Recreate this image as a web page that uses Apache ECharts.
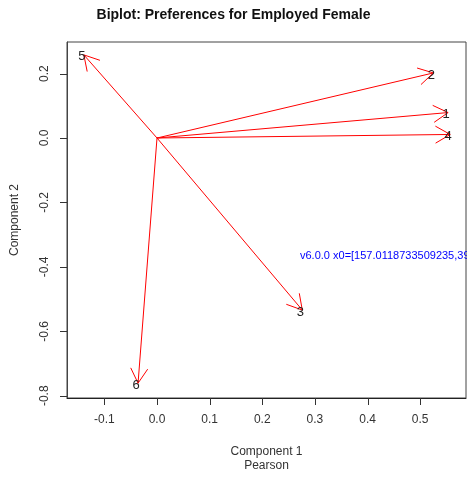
<!DOCTYPE html>
<html>
<head>
<meta charset="utf-8">
<script src="https://cdn.jsdelivr.net/npm/echarts@6/dist/echarts.min.js"></script>
<style>
  html, body { margin: 0; padding: 0; background: #fff; }
  #main { width: 467px; height: 479px; }
</style>
</head>
<body>
<div id="main"></div>
<script>
// variable loadings (arrow tips)
var varNames = ["1", "2", "3", "4", "5", "6"];
var comp1 = [0.553, 0.525, 0.276, 0.557, -0.139, -0.036];
var comp2 = [0.079, 0.202, -0.534, 0.011, 0.258, -0.761];

var xTicks = [-0.1, 0.0, 0.1, 0.2, 0.3, 0.4, 0.5];
var yTicks = [-0.8, -0.6, -0.4, -0.2, 0.0, 0.2];

var xRange = [-0.171, 0.587];
var yRange = [-0.807, 0.298];

var data = varNames.map(function (n, i) {
  return [comp1[i], comp2[i], n];
});

var HEAD = 17;
var ANG = Math.PI / 6;
var TICK = 7;

function renderArrow(params, api) {
  var o = api.coord([0, 0]);
  var t = api.coord([api.value(0), api.value(1)]);
  var a = Math.atan2(t[1] - o[1], t[0] - o[0]);
  var h1 = [t[0] - HEAD * Math.cos(a - ANG), t[1] - HEAD * Math.sin(a - ANG)];
  var h2 = [t[0] - HEAD * Math.cos(a + ANG), t[1] - HEAD * Math.sin(a + ANG)];
  var st = { stroke: "#ff0000", lineWidth: 1 };
  return {
    type: "group",
    children: [
      { type: "line", shape: { x1: o[0], y1: o[1], x2: t[0], y2: t[1] }, style: st },
      { type: "line", shape: { x1: t[0], y1: t[1], x2: h1[0], y2: h1[1] }, style: st },
      { type: "line", shape: { x1: t[0], y1: t[1], x2: h2[0], y2: h2[1] }, style: st },
      {
        type: "text",
        x: t[0] - 2, y: t[1] + 2,
        style: {
          text: api.value(2),
          fill: "#222",
          font: "13px 'Liberation Sans', Arial, sans-serif",
          align: "center",
          verticalAlign: "middle"
        }
      }
    ]
  };
}

var chart = echarts.init(document.getElementById("main"));
chart.setOption({
  animation: false,
  textStyle: { fontFamily: "'Liberation Sans', Arial, sans-serif" },
  title: {
    text: "Biplot: Preferences for Employed Female",
    left: "center",
    top: 3,
    textStyle: { fontSize: 14, fontWeight: "bold", color: "#111" }
  },
  grid: {
    left: 67, right: 1, top: 42, bottom: 81,
    outerBoundsMode: "none",
    containLabel: false,
    show: true, borderColor: "#444", borderWidth: 1
  },
  xAxis: {
    type: "value",
    min: xRange[0], max: xRange[1],
    name: "Component 1\nPearson",
    nameLocation: "middle",
    nameGap: 47,
    nameTextStyle: { fontSize: 12, color: "#333", lineHeight: 14 },
    axisLine: { show: true, onZero: false, lineStyle: { color: "#222" } },
    splitLine: { show: false },
    axisTick: { show: false },
    axisLabel: {
      customValues: xTicks, fontSize: 12, color: "#333", margin: 16,
      formatter: function (v) { return v.toFixed(1); }
    }
  },
  yAxis: {
    type: "value",
    min: yRange[0], max: yRange[1],
    name: "Component 2",
    nameLocation: "middle",
    nameGap: 46,
    nameTextStyle: { fontSize: 12, color: "#333" },
    axisLine: { show: true, onZero: false, lineStyle: { color: "#444" } },
    splitLine: { show: false },
    axisTick: { show: false },
    axisLabel: {
      customValues: yTicks, fontSize: 12, color: "#333", margin: 16, rotate: 90,
      formatter: function (v) { return v.toFixed(1); }
    }
  },
  series: [
    {
      type: "custom",
      renderItem: renderArrow,
      data: data,
      encode: { x: 0, y: 1 },
      clip: false
    }
  ]
});

// outward R-style tick marks, placed through the chart's own scales
var tickEls = [];
var dbg = "v" + echarts.version;
try {
  xTicks.forEach(function (v) {
    var p = chart.convertToPixel({ gridIndex: 0 }, [v, yRange[0]]);
    if (v === 0) dbg += " x0=" + JSON.stringify(p);
    var x = Math.round(p[0]) + 0.5;
    tickEls.push({ type: "rect", shape: { x: x - 0.5, y: p[1], width: 1, height: TICK },
      style: { fill: "#333" }, z: 100, silent: true });
  });
  yTicks.forEach(function (v) {
    var p = chart.convertToPixel({ gridIndex: 0 }, [xRange[0], v]);
    var y = Math.round(p[1]) + 0.5;
    tickEls.push({ type: "rect", shape: { x: p[0] - TICK, y: y - 0.5, width: TICK, height: 1 },
      style: { fill: "#333" }, z: 100, silent: true });
  });
} catch (e) {
  dbg += " ERR " + e.message;
}
tickEls.push({ type: "text", left: 300, top: 250, z: 100,
  style: { text: dbg + " n=" + tickEls.length, fill: "#00f", font: "11px sans-serif" } });
chart.setOption({ graphic: { elements: tickEls } });
</script>
</body>
</html>
